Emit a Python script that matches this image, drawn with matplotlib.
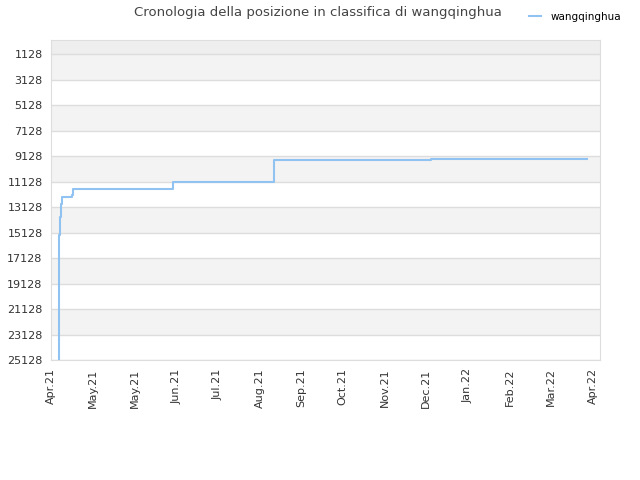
import matplotlib
matplotlib.use("Agg")
import matplotlib.pyplot as plt
from datetime import datetime, timedelta

# Data (date, rank)
dates = ["2021-04-10 12:00", "2021-04-10 12:00", "2021-04-11 04:00",
         "2021-04-11 18:00", "2021-04-12 04:00", "2021-04-19 00:00",
         "2021-04-19 12:00", "2021-06-26 00:00", "2021-09-02 00:00",
         "2021-12-16 00:00", "2022-03-31 00:00"]
ranks = [25128, 15300, 13900, 12900, 12300, 12200, 11680, 11130, 9400, 9325, 9325]

tick_start = datetime(2021, 4, 5)
tick_labels = ["Apr.21", "May.21", "May.21", "Jun.21", "Jul.21", "Aug.21", "Sep.21",
               "Oct.21", "Nov.21", "Dec.21", "Jan.22", "Feb.22", "Mar.22", "Apr.22"]
y_ticks = [1128, 3128, 5128, 7128, 9128, 11128, 13128, 15128, 17128, 19128,
           21128, 23128, 25128]

x = [datetime.strptime(d, "%Y-%m-%d %H:%M") for d in dates]
tick_pos = [tick_start + timedelta(days=28 * i) for i in range(len(tick_labels))]

fig = plt.figure(figsize=(6.4, 4.8), dpi=100)
ax = fig.add_axes([0.0797, 0.25, 0.8578, 0.667])

# alternating bands
ax.axhspan(0, 1128, color="#eeeeee", zorder=0, lw=0)
for i in range(len(y_ticks) - 1):
    if i % 2 == 0:
        ax.axhspan(y_ticks[i], y_ticks[i + 1], color="#f3f3f3", zorder=0, lw=0)
for yt in y_ticks:
    ax.axhline(yt, color="#dddddd", lw=1, zorder=1)

ax.plot(x, ranks, drawstyle="steps-post", color="#90c2f2", lw=1.5, zorder=3,
        label="wangqinghua")

ax.set_ylim(25128, 0)
ax.set_xlim(tick_start, tick_start + timedelta(days=368.7))
ax.set_yticks(y_ticks)
ax.set_yticklabels([str(v) for v in y_ticks])
ax.set_xticks(tick_pos)
ax.set_xticklabels(tick_labels, rotation=90)
ax.tick_params(length=0, labelsize=8, colors="#333333", pad=6)

for s in ax.spines.values():
    s.set_color("#dddddd")

fig.text(0.497, 0.973, "Cronologia della posizione in classifica di wangqinghua",
         ha="center", va="center", fontsize=9.5, color="#444444")
fig.legend(loc="upper right", bbox_to_anchor=(0.985, 0.995), frameon=False,
           fontsize=7.5, handlelength=1.2, handletextpad=0.9)

fig.savefig("out.png", dpi=100)
